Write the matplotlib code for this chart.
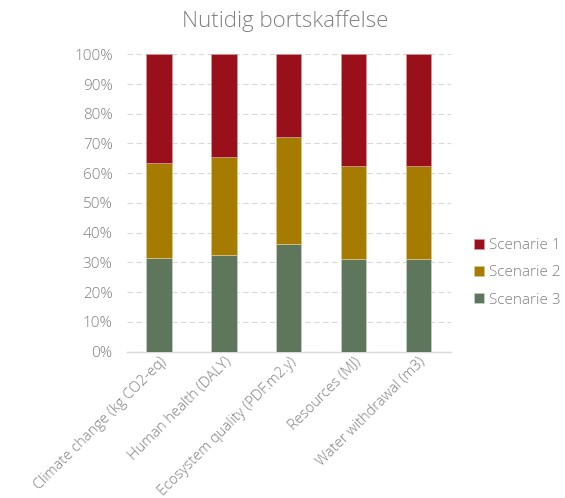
import matplotlib
matplotlib.use("Agg")
import matplotlib.pyplot as plt
import numpy as np
from matplotlib.ticker import PercentFormatter

categories = [
    "Climate change (kg CO2-eq)",
    "Human health (DALY)",
    "Ecosystem quality (PDF.m2.y)",
    "Resources (MJ)",
    "Water withdrawal (m3)",
]
scenarie_3 = [31.6, 32.6, 36.3, 31.1, 31.1]
scenarie_2 = [32.0, 32.8, 35.9, 31.4, 31.4]
scenarie_1 = [36.4, 34.6, 27.8, 37.5, 37.5]

plt.rcParams["font.family"] = ["Open Sans", "DejaVu Sans"]
plt.rcParams["font.weight"] = "light"
text_color = "#808080"

fig = plt.figure(figsize=(5.65, 4.98), dpi=100)
ax = fig.add_axes([0.224, 0.294, 0.574, 0.597])

x = np.arange(len(categories))
w = 0.39
s3 = np.array(scenarie_3)
s2 = np.array(scenarie_2)
s1 = np.array(scenarie_1)

b3 = ax.bar(x, s3, w, color="#5e765b", edgecolor="#c8d0c6", linewidth=0.5,
            label="Scenarie 3", zorder=3)
b2 = ax.bar(x, s2, w, bottom=s3, color="#a67c00", edgecolor="#d9c78f",
            linewidth=0.5, label="Scenarie 2", zorder=3)
b1 = ax.bar(x, s1, w, bottom=s3 + s2, color="#990f1a", edgecolor="#d49a9f",
            linewidth=0.5, label="Scenarie 1", zorder=3)

ax.set_xlim(-0.5, len(categories) - 0.5)
ax.set_ylim(0, 100)
ax.set_yticks(np.arange(0, 101, 10))
ax.yaxis.set_major_formatter(PercentFormatter(decimals=0))
ax.grid(axis="y", color="#d9d9d9", linestyle=(0, (5, 3)), linewidth=0.8, zorder=0)

for side in ["top", "right", "left"]:
    ax.spines[side].set_visible(False)
ax.spines["bottom"].set_color("#d9d9d9")
ax.spines["bottom"].set_linewidth(1.0)

ax.set_xticks(x)
ax.set_xticklabels(categories, rotation=45, ha="right", rotation_mode="anchor")
ax.tick_params(axis="y", length=0, labelsize=11, labelcolor=text_color, pad=10)
ax.tick_params(axis="x", length=0, labelsize=10.5, labelcolor=text_color, pad=2)

fig.suptitle("Nutidig bortskaffelse", x=0.505, y=0.98, fontsize=16,
             color=text_color, fontweight="light")

ax.legend(handles=[b1, b2, b3], loc="center left", bbox_to_anchor=(1.03, 0.265),
          frameon=False, fontsize=11, labelcolor=text_color, handlelength=0.65,
          handleheight=0.65, handletextpad=0.3, labelspacing=0.8)

fig.savefig("out.png", dpi=100)
